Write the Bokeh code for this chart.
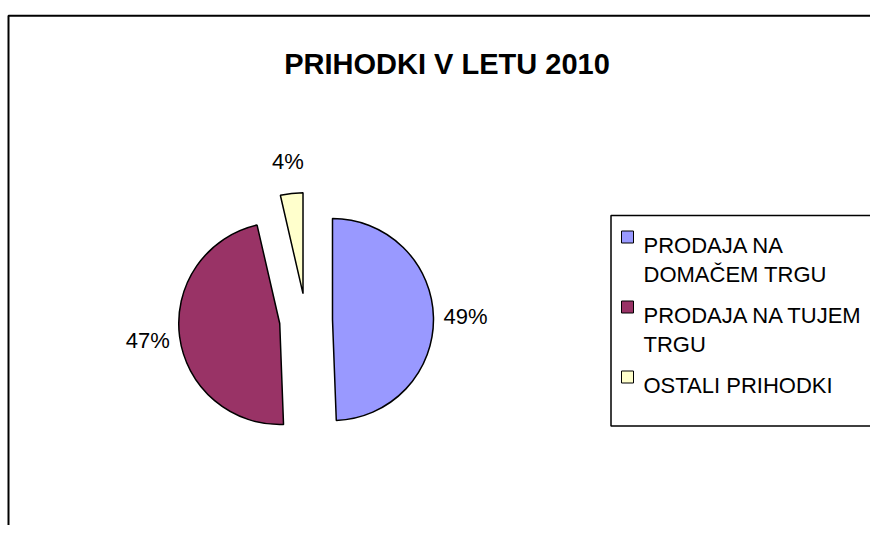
import math
from bokeh.plotting import figure
from bokeh.models import Range1d, ColumnDataSource
from bokeh.core.properties import value
from bokeh.embed import file_html
from bokeh.resources import INLINE

# ---- data ----
title_text = "PRIHODKI V LETU 2010"
categories = ["PRODAJA NA DOMAČEM TRGU", "PRODAJA NA TUJEM TRGU", "OSTALI PRIHODKI"]
legend_lines = [["PRODAJA NA", "DOMAČEM TRGU"], ["PRODAJA NA TUJEM", "TRGU"], ["OSTALI PRIHODKI"]]
shares = [49.4, 47.0, 3.6]
colors = ["#9999FF", "#993366", "#FFFFCC"]

# ---- layout (canvas pixels; y up) ----
W, H = 870, 525
FONT = "Liberation Sans"
cx, cy = 305.5, 205.5
R = 101
EXPLODE = 26.5
LABEL_OFF = 32

p = figure(width=W, height=H, output_backend="svg", toolbar_location=None,
           x_range=Range1d(0, W), y_range=Range1d(0, H),
           min_border=0, min_border_left=0, min_border_right=0,
           min_border_top=0, min_border_bottom=0)
p.axis.visible = False
p.grid.visible = False
p.outline_line_color = None
p.background_fill_color = "white"
p.border_fill_color = "white"

# chart border: only left and top edges are on the page
p.multi_line(xs=[[8, 8, W]], ys=[[0, 509.75, 509.75]],
             line_color="black", line_width=2)

# title
p.text(x=[446.5], y=[462], text=[title_text], text_align="center",
       text_baseline="alphabetic", text_font=value(FONT), text_font_size="29px",
       text_font_style="bold", text_color="black")

# pie slices (start at 12 o'clock, clockwise), exploded along bisectors
total = sum(shares)
xs, ys, starts, ends, lx, ly, labels = [], [], [], [], [], [], []
cum = 0.0
for v in shares:
    a0 = 90.0 - cum / total * 360.0
    a1 = a0 - v / total * 360.0
    mid = math.radians((a0 + a1) / 2)
    sx = cx + EXPLODE * math.cos(mid)
    sy = cy + EXPLODE * math.sin(mid)
    xs.append(sx); ys.append(sy)
    starts.append(math.radians(a1)); ends.append(math.radians(a0))
    lx.append(sx + (R + LABEL_OFF) * math.cos(mid))
    ly.append(sy + (R + LABEL_OFF) * math.sin(mid))
    labels.append(f"{round(v / total * 100)}%")
    cum += v

src = ColumnDataSource(dict(x=xs, y=ys, start=starts, end=ends, color=colors))
p.wedge(x="x", y="y", radius=R, start_angle="start", end_angle="end",
        direction="anticlock", fill_color="color", line_color="black",
        line_width=1.5, source=src)

p.text(x=lx, y=ly, text=labels, text_align="center", text_baseline="middle",
       text_font=value(FONT), text_font_size="22px", text_color="black")

# legend box (runs off the right edge of the page)
p.multi_line(xs=[[W, 610.5, 610.5, W]], ys=[[310, 310, 99.5, 99.5]],
             line_color="black", line_width=1.5)

sq_x = 627
txt_x = 643
first_base = 280.5
line_step = 29.5
entry_gap = 11
tx, ty, tt = [], [], []
sqx, sqy = [], []
base = first_base
for lines in legend_lines:
    sqx.append(sq_x); sqy.append(base + 8)
    for j, t in enumerate(lines):
        tx.append(txt_x); ty.append(base - j * line_step); tt.append(t)
    base -= len(lines) * line_step + entry_gap

p.rect(x=sqx, y=sqy, width=12, height=12, fill_color=colors,
       line_color="black", line_width=1)
p.text(x=tx, y=ty, text=tt, text_align="left", text_baseline="alphabetic",
       text_font=value(FONT), text_font_size="22px", text_color="black")

open("out.html", "w").write(file_html(p, INLINE))
